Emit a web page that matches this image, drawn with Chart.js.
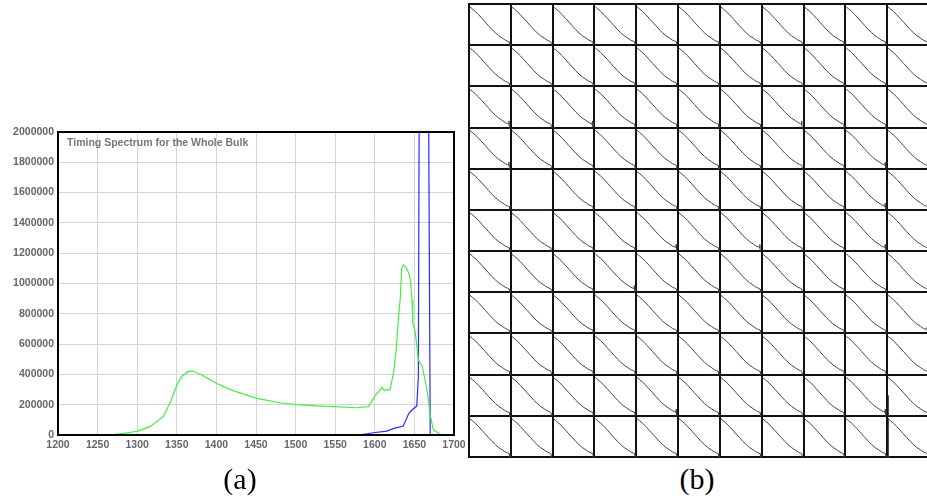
<!DOCTYPE html>
<html>
<head>
<meta charset="utf-8">
<script src="https://cdn.jsdelivr.net/npm/chart.js@4.4.0/dist/chart.umd.min.js"></script>
<style>
    html, body { margin: 0; padding: 0; background: #fff; overflow: hidden; width: 927px; height: 501px; }
    #spec { position: absolute; left: 0; top: 0; }
    #grid { position: absolute; left: 467px; top: 2px; }
    .lab { position: absolute; top: 462px; width: 70px; text-align: center; font-family: "Liberation Serif", serif; font-size: 30px; color: #000; }
</style>
</head>
<body>
<canvas id="spec" width="465" height="501"></canvas>
<canvas id="grid" width="464" height="457"></canvas>
<div class="lab" style="left:205px">(a)</div>
<div class="lab" style="left:662px">(b)</div>
<script>
// (a) timing spectrum
const chartTitle = 'Timing Spectrum for the Whole Bulk';
const greenX = [1240, 1255, 1270, 1285, 1301, 1316, 1333, 1343, 1351, 1356,
                1364, 1370, 1379, 1400, 1419, 1451, 1480, 1501, 1531, 1556,
                1577, 1592, 1596, 1601, 1605, 1609, 1612, 1615, 1619, 1624,
                1627, 1630, 1632, 1634, 1636, 1639, 1643, 1645, 1647, 1648,
                1651, 1655, 1660, 1666, 1670, 1674, 1681, 1684];
const greenY = [0, 1000, 3000, 12000, 26000, 55000, 121000, 231000, 341000, 385000,
                418000, 422000, 403000, 341000, 296000, 242000, 213000, 200000, 191000, 185000,
                180000, 187000, 220000, 264000, 286000, 315000, 292000, 301000, 297000, 418000,
                561000, 781000, 891000, 1100000, 1122000, 1111000, 1067000, 1023000, 891000, 737000,
                682000, 495000, 451000, 297000, 132000, 33000, 11000, 0];
const blueX = [1580, 1598, 1615, 1624, 1636, 1643, 1647, 1653, 1655, 1656, 1668, 1669, 1670];
const blueY = [0, 15000, 26000, 44000, 59000, 143000, 165000, 191000, 385000, 2100000, 2100000, 1023000, 0];

// (b) 11 x 11 per-channel spectra, normalised to the cell (u right, v down)
const curveU = [0.02, 0.08, 0.15, 0.23, 0.31, 0.39, 0.47, 0.55, 0.63, 0.71, 0.80, 0.87, 0.92];
const curveV = [0.07, 0.12, 0.18, 0.26, 0.35, 0.44, 0.53, 0.62, 0.70, 0.77, 0.83, 0.88, 0.90];
const tails = {
    p: [[0.96, 0.92], [0.975, 1.0]],
    v: [[0.94, 0.92], [0.955, 0.84], [0.965, 0.99], [0.975, 1.0]],
    l: [[0.95, 0.86], [0.965, 1.0]]
};
// p = plateau then drop, v = notch, l = higher step, e = empty, s = left spike
const tailRows = [
    'ppppppppppp',
    'ppppppppppp',
    'vpvppppvppp',
    'vppppppppvp',
    'pepppppppvp',
    'ppppvpvppvp',
    'pppvppppppp',
    'ppppppppppl',
    'ppppppppppp',
    'ppppvppppvs',
    'pppppppppps'
];
const spikeTop = [0.5, 0.05];

const tick = v => String(v);
const lab = { family: '"Liberation Sans", Arial, sans-serif', size: 10.5, weight: 'bold' };

const framePlugin = {
    id: 'frame',
    afterDraw(chart) {
        const { ctx, chartArea: a } = chart;
        ctx.save();
        ctx.strokeStyle = '#000';
        ctx.lineWidth = 2;
        ctx.strokeRect(a.left, a.top, a.right - a.left, a.bottom - a.top);
        ctx.fillStyle = '#777';
        ctx.font = 'bold 10.5px "Liberation Sans", Arial, sans-serif';
        ctx.textBaseline = 'middle';
        ctx.fillText(chartTitle, a.left + 9, a.top + 11);
        ctx.restore();
    }
};

new Chart(document.getElementById('spec'), {
    type: 'line',
    data: {
        datasets: [{
            data: greenX.map((x, i) => ({ x: x, y: greenY[i] })),
            borderColor: '#44ee44',
            borderWidth: 1.2,
            pointRadius: 0,
            tension: 0
        }, {
            data: blueX.map((x, i) => ({ x: x, y: blueY[i] })),
            borderColor: '#2a2aff',
            borderWidth: 1.2,
            pointRadius: 0,
            tension: 0
        }]
    },
    options: {
        responsive: false,
        animation: false,
        layout: { padding: { top: 132, right: 11, bottom: 46, left: 0 } },
        plugins: { legend: { display: false }, tooltip: { enabled: false } },
        scales: {
            x: {
                type: 'linear', min: 1200, max: 1700,
                ticks: { stepSize: 50, callback: tick, color: '#666', font: lab, padding: 4, maxRotation: 0, autoSkip: false },
                grid: { color: '#d4d4d4', drawTicks: false },
                border: { color: '#000', width: 2 },
                afterFit(s) { s.height = 20; s.paddingLeft = 0; s.paddingRight = 0; }
            },
            y: {
                min: 0, max: 2000000,
                ticks: { stepSize: 200000, callback: tick, color: '#666', font: lab, padding: 4 },
                grid: { color: '#d4d4d4', drawTicks: false },
                border: { color: '#000', width: 2 },
                afterFit(s) { s.width = 58; s.paddingTop = 0; s.paddingBottom = 0; }
            }
        }
    },
    plugins: [framePlugin]
});

function cellPoints(row, col) {
    const kind = tailRows[row][col];
    const pts = [];
    if (kind === 'e') {
        pts.push([0.02, 1.0], [0.98, 1.0]);
    } else {
        if (kind === 's') {
            pts.push([0.03, 1.0], [0.03, spikeTop[row - 9]], null);
        }
        curveU.forEach((u, i) => pts.push([u, curveV[i]]));
        (tails[kind] || tails.p).forEach(p => pts.push(p));
    }
    return pts.map(p => p ? { x: col + p[0], y: row + p[1] } : { x: col, y: null });
}

const cellSets = [];
for (let r = 0; r < 11; r++) {
    for (let c = 0; c < 11; c++) {
        cellSets.push({
            data: cellPoints(r, c),
            borderColor: '#444',
            borderWidth: 1,
            pointRadius: 0,
            tension: 0,
            spanGaps: false
        });
    }
}

new Chart(document.getElementById('grid'), {
    type: 'line',
    data: { datasets: cellSets },
    options: {
        responsive: false,
        animation: false,
        layout: { padding: 2 },
        plugins: { legend: { display: false }, tooltip: { enabled: false } },
        scales: {
            x: {
                type: 'linear', min: 0, max: 11,
                ticks: { stepSize: 1, display: false },
                grid: { color: '#111', lineWidth: 2, drawTicks: false },
                border: { color: '#111', width: 2 },
                afterFit(s) { s.height = 0; }
            },
            y: {
                min: 0, max: 11, reverse: true,
                ticks: { stepSize: 1, display: false },
                grid: { color: '#111', lineWidth: 2, drawTicks: false },
                border: { color: '#111', width: 2 },
                afterFit(s) { s.width = 0; }
            }
        }
    }
});
</script>
</body>
</html>
